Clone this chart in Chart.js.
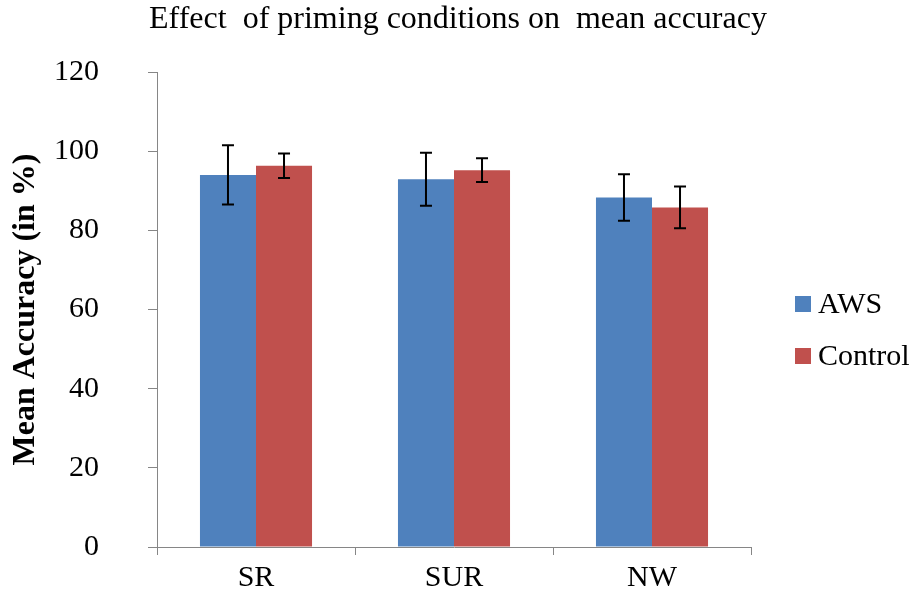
<!DOCTYPE html>
<html>
<head>
<meta charset="utf-8">
<script src="https://cdn.jsdelivr.net/npm/chart.js@4/dist/chart.umd.min.js"></script>
<style>
  html, body { margin: 0; padding: 0; background: #fff; }
  #wrap { width: 918px; height: 602px; }
</style>
</head>
<body>
<div id="wrap"><canvas id="accChart" width="918" height="602"></canvas></div>
<script>
const categories = ['SR', 'SUR', 'NW'];
const awsValues = [94.0, 92.9, 88.3];
const awsErrors = [7.5, 6.7, 5.9];
const controlValues = [96.3, 95.2, 85.8];
const controlErrors = [3.1, 3.0, 5.3];
const yTicks = [0, 20, 40, 60, 80, 100, 120];

const serif = '"Liberation Serif", "Times New Roman", serif';
const axisGray = '#868686';
const chartTitle = 'Effect  of priming conditions on  mean accuracy';

// error bars, drawn through the y scale
const errorBars = {
    id: 'errorBars',
    afterDatasetsDraw(chart) {
        const ctx = chart.ctx;
        const y = chart.scales.y;
        ctx.save();
        ctx.strokeStyle = '#000';
        ctx.lineWidth = 2;
        chart.data.datasets.forEach((ds, i) => {
            const meta = chart.getDatasetMeta(i);
            meta.data.forEach((bar, j) => {
                const v = ds.data[j];
                const e = ds.errors[j];
                const top = y.getPixelForValue(v + e);
                const bot = y.getPixelForValue(v - e);
                ctx.beginPath();
                ctx.moveTo(bar.x, top);
                ctx.lineTo(bar.x, bot);
                ctx.moveTo(bar.x - 6, top);
                ctx.lineTo(bar.x + 6, top);
                ctx.moveTo(bar.x - 6, bot);
                ctx.lineTo(bar.x + 6, bot);
                ctx.stroke();
            });
        });
        ctx.restore();
    }
};

// title over the whole canvas + legend on the right, like the original
const titleAndLegend = {
    id: 'titleAndLegend',
    afterDraw(chart) {
        const ctx = chart.ctx;
        ctx.save();
        ctx.fillStyle = '#000';
        ctx.textBaseline = 'middle';
        ctx.textAlign = 'center';
        ctx.font = '32px ' + serif;
        ctx.fillText(chartTitle, 458, 20);

        ctx.textAlign = 'left';
        ctx.font = '30px ' + serif;
        chart.data.datasets.forEach((ds, i) => {
            const cy = 304 + i * 52;
            ctx.fillStyle = ds.backgroundColor;
            ctx.fillRect(795, cy - 8, 16, 16);
            ctx.fillStyle = '#000';
            ctx.fillText(ds.label, 818, cy + 1);
        });
        ctx.restore();
    }
};

new Chart(document.getElementById('accChart').getContext('2d'), {
    type: 'bar',
    data: {
        labels: categories,
        datasets: [{
            label: 'AWS',
            data: awsValues,
            errors: awsErrors,
            backgroundColor: '#4F81BD'
        }, {
            label: 'Control',
            data: controlValues,
            errors: controlErrors,
            backgroundColor: '#C0504D'
        }]
    },
    options: {
        responsive: false,
        animation: false,
        layout: { padding: { left: 0, right: 167, top: 72, bottom: 0 } },
        categoryPercentage: 0.566,
        barPercentage: 1.0,
        plugins: {
            legend: { display: false },
            tooltip: { enabled: false },
            title: { display: false }
        },
        scales: {
            x: {
                offset: true,
                grid: { display: true, offset: true, drawOnChartArea: false, color: axisGray, tickLength: 8 },
                border: { color: axisGray, width: 1 },
                ticks: { color: '#000', font: { family: serif, size: 30 }, padding: 5 },
                afterFit(scale) { scale.height = 55; }
            },
            y: {
                min: 0,
                max: 120,
                afterBuildTicks(scale) { scale.ticks = yTicks.map(v => ({ value: v })); },
                grid: { display: true, drawOnChartArea: false, color: axisGray, tickLength: 9 },
                border: { color: axisGray, width: 1 },
                ticks: { color: '#000', font: { family: serif, size: 30 }, padding: 49 },
                title: {
                    display: true,
                    text: 'Mean Accuracy (in %)',
                    color: '#000',
                    font: { family: serif, size: 32, weight: 'bold' },
                    padding: { top: 7, bottom: 0 }
                },
                afterFit(scale) {
                    scale.width = 157;
                    // the big label padding should not eat into the plot height
                    scale.paddingTop = 18;
                    scale.paddingBottom = 18;
                }
            }
        }
    },
    plugins: [errorBars, titleAndLegend]
});
</script>
</body>
</html>
